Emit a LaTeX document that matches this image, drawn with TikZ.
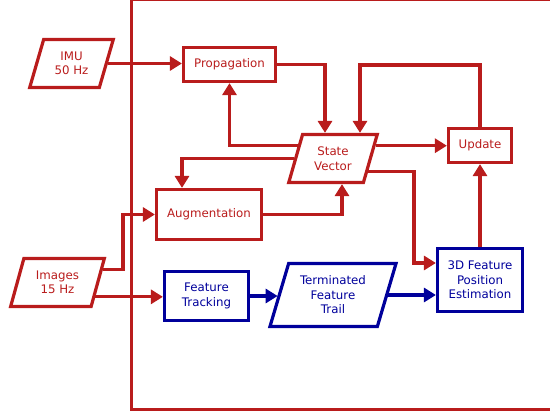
\documentclass[tikz,border=0pt]{standalone}
\usepackage{fontspec}
\setmainfont{DejaVu Sans}
\usetikzlibrary{arrows.meta,shapes.geometric,calc}
\definecolor{mred}{RGB}{185,28,28}
\definecolor{mblue}{RGB}{0,0,155}
\begin{document}
\begin{tikzpicture}[x=1pt,y=-1pt,
  font=\fontsize{11.8}{14.5}\selectfont,
  box/.style={draw, line width=3.2pt, inner sep=0pt, align=center},
  redbox/.style={box, draw=mred, text=mred},
  bluebox/.style={box, draw=mblue, text=mblue},
  para/.style={trapezium, trapezium left angle=70, trapezium right angle=110,
     trapezium stretches=true, draw, line width=3.2pt, inner sep=0pt, align=center},
  arr/.style={line width=3.2pt, -{Triangle[length=12pt,width=14pt]}},
  redarr/.style={arr, draw=mred},
  bluearr/.style={arr, draw=mblue}]
\useasboundingbox (0,0) rectangle (550,417);
\begin{scope}
\clip (0,0) rectangle (550,417);
\draw[mred, line width=3pt] (131,0) rectangle (600,410);
\end{scope}

% nodes
\node[para, draw=mred, text=mred, minimum width=84pt, minimum height=48pt] (imu) at (71.5,63.5) {IMU\\50 Hz};
\node[para, draw=mred, text=mred, minimum width=94pt, minimum height=48pt] (img) at (57.5,282.5) {Images\\15 Hz};
\node[para, draw=mred, text=mred, minimum width=89pt, minimum height=48pt] (sv) at (333,158.5) {State\\Vector};
\node[para, draw=mblue, text=mblue, minimum width=127pt, minimum height=63pt] (term) at (333,295) {Terminated\\Feature\\Trail};
\node[redbox, minimum width=92pt, minimum height=34pt] (prop) at (229.5,64.5) {Propagation};
\node[redbox, minimum width=63pt, minimum height=34pt] (upd) at (480,145.5) {Update};
\node[redbox, minimum width=105pt, minimum height=50pt] (aug) at (209,214.5) {Augmentation};
\node[bluebox, minimum width=84pt, minimum height=49pt] (ft) at (206.5,296) {Feature\\Tracking};
\node[bluebox, minimum width=85pt, minimum height=63pt] (est) at (480,280) {3D Feature\\Position\\Estimation};

% border points on parallelograms
\coordinate (svr1) at ($(sv.top right corner)!0.25!(sv.bottom right corner)$);
\coordinate (svr2) at ($(sv.top right corner)!0.76!(sv.bottom right corner)$);
\coordinate (svl1) at ($(sv.top left corner)!0.25!(sv.bottom left corner)$);
\coordinate (svl2) at ($(sv.top left corner)!0.50!(sv.bottom left corner)$);
\coordinate (imgr1) at ($(img.top right corner)!0.25!(img.bottom right corner)$);
\coordinate (imgr2) at ($(img.top right corner)!0.78!(img.bottom right corner)$);

% connectors
\draw[redarr] (imu.east) -- (imu.east -| prop.west);
\draw[redarr] (prop.east) -| (sv.north -| 325,0);
\draw[redarr] (upd.north) -- (upd.north |- 0,65) -| (sv.north -| 360,0);
\draw[redarr] (svr1) -- (svr1 -| upd.west);
\draw[redarr] (svl1) -| (prop.south);
\draw[redarr] (svl2) -| (aug.north -| 182,0);
\draw[redarr] (aug.east) -| (sv.south -| 342,0);
\draw[redarr] (svr2) -| (414,263) -- (est.west |- 0,263);
\draw[redarr] (est.north) -- (upd.south);
\draw[redarr] (imgr1) -| (123,214.5) -- (aug.west);
\draw[redarr] (imgr2) -- (imgr2 -| ft.west);
\draw[bluearr] (ft.east) -- (ft.east -| term.west);
\draw[bluearr] (term.east) -- (term.east -| est.west);
\end{tikzpicture}
\end{document}
